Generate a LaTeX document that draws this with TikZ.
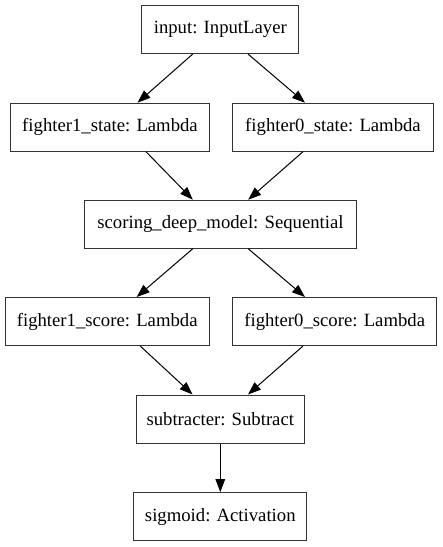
\documentclass[tikz,border=0pt]{standalone}
\usepackage{fontspec}
\setmainfont{Liberation Serif}
\usetikzlibrary{arrows.meta}
\begin{document}
\begin{tikzpicture}[x=1pt,y=-1pt,
  layer/.style={draw=black!80, line width=1pt, rectangle, minimum height=48pt, inner sep=0pt, font=\fontsize{18.7}{22}\selectfont},
  edge/.style={line width=1pt, -{Triangle[length=13pt,width=9.5pt]}}]
\useasboundingbox (0,0) rectangle (443,547);
\node[layer, minimum width=157pt] (in) at (220.3,29.5) {input: InputLayer};
\node[layer, minimum width=199pt] (f1s) at (110,127.2) {fighter1\_state: Lambda};
\node[layer, minimum width=201pt] (f0s) at (333,127.2) {fighter0\_state: Lambda};
\node[layer, minimum width=272pt] (sdm) at (220.5,224.2) {scoring\_deep\_model: Sequential};
\node[layer, minimum width=204pt] (f1c) at (107.2,321.5) {fighter1\_score: Lambda};
\node[layer, minimum width=204pt] (f0c) at (334.7,321.5) {fighter0\_score: Lambda};
\node[layer, minimum width=168pt] (sub) at (220.3,419) {subtracter: Subtract};
\node[layer, minimum width=173pt] (sig) at (220.3,516.7) {sigmoid: Activation};
\draw[edge] ([xshift=-27.5pt]in.south) -- ([xshift=27.5pt]f1s.north);
\draw[edge] ([xshift=27.7pt]in.south) -- ([xshift=-28pt]f0s.north);
\draw[edge] ([xshift=36pt]f1s.south) -- ([xshift=-27.7pt]sdm.north);
\draw[edge] ([xshift=-30pt]f0s.south) -- ([xshift=27.7pt]sdm.north);
\draw[edge] ([xshift=-27.7pt]sdm.south) -- ([xshift=29.5pt]f1c.north);
\draw[edge] ([xshift=27.7pt]sdm.south) -- ([xshift=-29.7pt]f0c.north);
\draw[edge] ([xshift=33pt]f1c.south) -- ([xshift=-27.7pt]sub.north);
\draw[edge] ([xshift=-31.7pt]f0c.south) -- ([xshift=27.7pt]sub.north);
\draw[edge] (sub.south) -- (sig.north);
\end{tikzpicture}
\end{document}
